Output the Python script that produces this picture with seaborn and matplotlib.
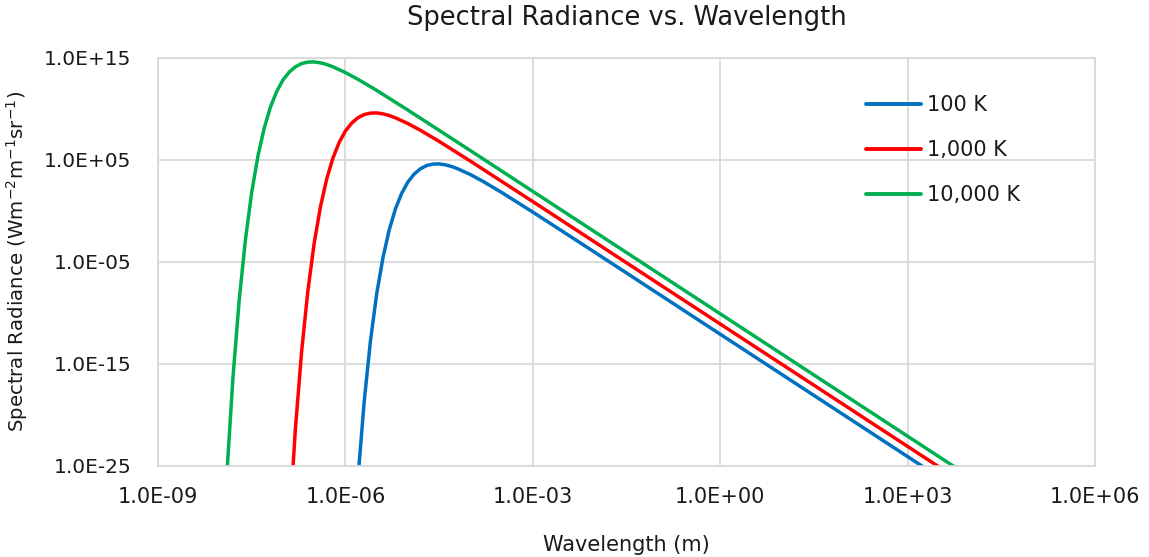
import numpy as np
import pandas as pd
import seaborn as sns
import matplotlib.pyplot as plt
from matplotlib.ticker import FuncFormatter, FixedLocator

# log10 of wavelength (m) and log10 of spectral radiance
wl_100 = [-5.9, -5.8, -5.7, -5.6, -5.5, -5.4, -5.3, -5.2, -5.1, -5.0, -4.9, -4.8, -4.7,
          -4.6, -4.5, -4.4, -4.3, -4.2, -4.0, -3.8, -3.5, -3.0, -2.0, 0.0, 3.0, 3.5]
rad_100 = [-36.05, -26.34, -18.74, -12.80, -8.18, -4.62, -1.89, 0.18, 1.71, 2.83, 3.61, 4.13, 4.45,
           4.59, 4.61, 4.52, 4.36, 4.13, 3.57, 2.91, 1.82, -0.11, -4.08, -12.08, -24.08, -26.08]

wl_1000 = [-6.9, -6.8, -6.7, -6.6, -6.5, -6.4, -6.3, -6.2, -6.1, -6.0, -5.9, -5.8, -5.7,
           -5.6, -5.5, -5.4, -5.3, -5.2, -5.0, -4.8, -4.5, -4.0, -3.0, -1.0, 3.0, 3.6]
rad_1000 = [-31.05, -21.34, -13.74, -7.80, -3.18, 0.38, 3.11, 5.18, 6.71, 7.83, 8.61, 9.13, 9.45,
            9.59, 9.61, 9.52, 9.36, 9.13, 8.57, 7.91, 6.82, 4.89, 0.92, -7.08, -23.08, -25.48]

wl_10000 = [-7.9, -7.8, -7.7, -7.6, -7.5, -7.4, -7.3, -7.2, -7.1, -7.0, -6.9, -6.8, -6.7,
            -6.6, -6.5, -6.4, -6.3, -6.2, -6.0, -5.8, -5.5, -5.0, -4.0, -2.0, 3.0, 3.8]
rad_10000 = [-26.05, -16.34, -8.74, -2.80, 1.82, 5.38, 8.11, 10.18, 11.71, 12.83, 13.61, 14.13, 14.45,
             14.59, 14.61, 14.52, 14.36, 14.13, 13.57, 12.91, 11.82, 9.89, 5.92, -2.08, -22.08, -25.28]

series_names = ['100 K', '1,000 K', '10,000 K']
colors = ['#0070C0', '#FF0000', '#00B050']

x_ticks = [1e-9, 1e-6, 1e-3, 1e0, 1e3, 1e6]
y_ticks = [1e-25, 1e-15, 1e-5, 1e5, 1e15]

frames = []
for name, wl, rad in zip(series_names, [wl_100, wl_1000, wl_10000], [rad_100, rad_1000, rad_10000]):
    frames.append(pd.DataFrame({'Wavelength': 10.0 ** np.array(wl),
                                'Radiance': 10.0 ** np.array(rad),
                                'Series': name}))
data = pd.concat(frames, ignore_index=True)

sns.set_style('white')
plt.rcParams['font.family'] = ['DejaVu Sans']
plt.rcParams['text.color'] = '#1a1a1a'
plt.rcParams['axes.labelcolor'] = '#1a1a1a'

fig = plt.figure(figsize=(11.49, 5.57), dpi=100)
ax = fig.add_axes([0.1375, 0.1634, 0.8155, 0.7326])

sns.lineplot(data=data, x='Wavelength', y='Radiance', hue='Series', hue_order=series_names,
             palette=colors, sort=False, linewidth=2.5, ax=ax)

ax.set_xscale('log')
ax.set_yscale('log')
ax.set_xlim(1e-9, 1e6)
ax.set_ylim(1e-25, 1e15)

ax.xaxis.set_major_locator(FixedLocator(x_ticks))
ax.yaxis.set_major_locator(FixedLocator(y_ticks))
ax.xaxis.set_minor_locator(plt.NullLocator())
ax.yaxis.set_minor_locator(plt.NullLocator())
fmt = FuncFormatter(lambda v, pos: f'{v:.1E}')
ax.xaxis.set_major_formatter(fmt)
ax.yaxis.set_major_formatter(fmt)

# Excel-like light grid
ax.set_axisbelow(True)
ax.grid(True, which='major', color='#d9d9d9', linewidth=1.3)
for s in ax.spines.values():
    s.set_color('#d9d9d9')
    s.set_linewidth(1.3)
ax.tick_params(axis='both', length=0, labelsize=15, colors='#1a1a1a')
ax.tick_params(axis='x', pad=15)
ax.tick_params(axis='y', pad=19, labelsize=14.5)

ax.set_title('Spectral Radiance vs. Wavelength', fontsize=18.5, pad=24)
ax.set_xlabel('Wavelength (m)', fontsize=15, labelpad=20)
ax.set_ylabel('Spectral Radiance (Wm$^{-2}$m$^{-1}$sr$^{-1}$)', fontsize=14.2, labelpad=10)

leg = ax.legend(loc='upper right', bbox_to_anchor=(0.94, 0.955), frameon=False, fontsize=15,
                handlelength=2.6, labelspacing=1.2, handletextpad=0.3)
for line in leg.get_lines():
    line.set_linewidth(2.8)

fig.savefig('out.png', dpi=100)
